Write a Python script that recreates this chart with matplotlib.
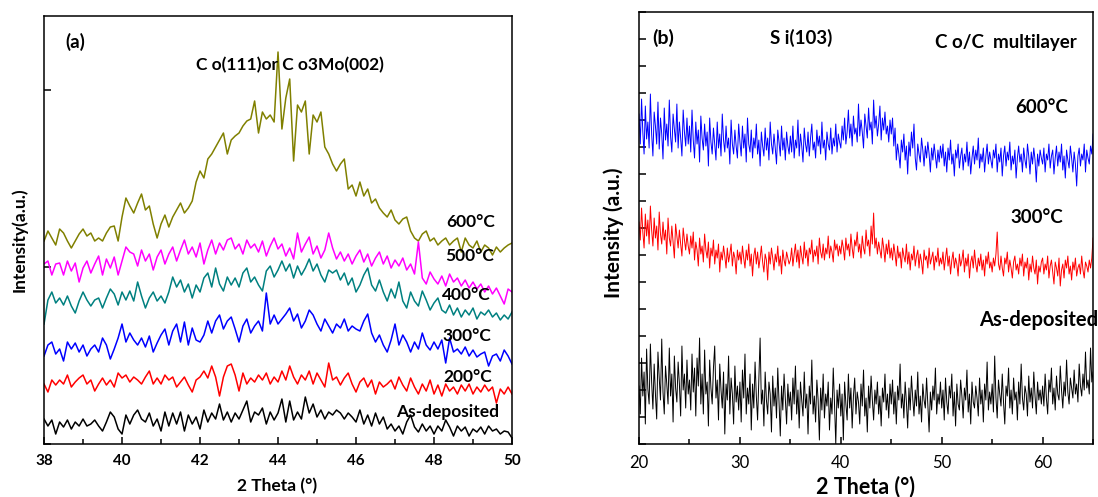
import numpy as np
import matplotlib
matplotlib.use("Agg")
import matplotlib.pyplot as plt
from matplotlib.ticker import MultipleLocator

plt.rcParams['font.family'] = ['Lato', 'DejaVu Sans']

# ---- panel (a): 38-50 deg, step 0.1 ----
x_a = np.linspace(38, 50, 121)
a_600 = [203, 213, 206, 199, 215, 211, 203, 196, 203, 210,
         215, 208, 211, 203, 206, 203, 211, 217, 218, 203,
         227, 246, 238, 231, 241, 250, 234, 238, 220, 206,
         220, 229, 217, 227, 234, 241, 231, 236, 243, 262,
         273, 266, 285, 290, 297, 304, 311, 290, 304, 308,
         311, 318, 323, 325, 343, 311, 332, 325, 329, 322,
         392, 315, 346, 365, 283, 339, 332, 343, 290, 329,
         322, 332, 297, 290, 280, 273, 280, 285, 255, 259,
         248, 262, 248, 255, 241, 245, 236, 231, 227, 234,
         224, 220, 225, 227, 213, 206, 203, 210, 213, 203,
         206, 199, 203, 206, 199, 203, 206, 192, 206, 199,
         196, 203, 192, 199, 196, 189, 197, 192, 196, 199,
         201]
a_500 = [180, 183, 169, 180, 181, 169, 183, 173, 181, 162,
         176, 183, 171, 180, 188, 169, 185, 176, 187, 169,
         183, 197, 192, 190, 178, 194, 183, 190, 174, 187,
         194, 180, 190, 197, 183, 194, 204, 190, 197, 187,
         201, 180, 194, 204, 190, 201, 194, 204, 206, 195,
         200, 190, 204, 196, 200, 192, 203, 188, 198, 206,
         195, 200, 188, 196, 185, 211, 192, 200, 207, 190,
         198, 186, 194, 211, 196, 185, 192, 183, 190, 180,
         188, 194, 182, 190, 178, 186, 192, 180, 188, 176,
         184, 178, 186, 174, 180, 170, 202, 166, 160, 172,
         165, 160, 168, 158, 170, 162, 166, 158, 164, 156,
         162, 155, 160, 152, 158, 150, 156, 148, 140, 155,
         152]
a_400 = [120, 144, 152, 141, 146, 139, 148, 138, 131, 143,
         152, 144, 138, 144, 146, 136, 146, 155, 150, 139,
         152, 144, 153, 143, 162, 148, 136, 146, 152, 143,
         148, 141, 152, 167, 157, 164, 152, 160, 146, 159,
         152, 166, 171, 157, 176, 160, 153, 167, 159, 166,
         157, 171, 176, 162, 167, 159, 153, 173, 178, 167,
         174, 183, 173, 180, 166, 178, 169, 176, 185, 173,
         180, 169, 162, 174, 171, 174, 164, 171, 159, 166,
         152, 159, 169, 176, 159, 153, 164, 152, 143, 155,
         146, 162, 143, 136, 152, 143, 138, 153, 144, 134,
         141, 146, 134, 131, 139, 129, 136, 127, 134, 129,
         136, 125, 132, 129, 134, 127, 131, 124, 129, 125,
         132]
a_300 = [88, 99, 102, 90, 95, 83, 102, 95, 101, 92,
         99, 88, 95, 99, 92, 106, 99, 85, 95, 106,
         120, 102, 111, 104, 99, 106, 97, 108, 92, 101,
         109, 115, 99, 113, 120, 102, 122, 99, 116, 104,
         102, 109, 123, 111, 123, 129, 115, 123, 127, 115,
         102, 118, 125, 111, 118, 123, 113, 151, 120, 129,
         120, 125, 130, 136, 123, 130, 116, 123, 134, 129,
         120, 113, 125, 118, 111, 120, 116, 125, 113, 118,
         115, 113, 123, 130, 111, 102, 109, 99, 92, 104,
         120, 99, 109, 102, 92, 102, 95, 111, 99, 94,
         102, 95, 104, 81, 106, 92, 95, 90, 97, 88,
         94, 87, 90, 92, 78, 88, 90, 83, 94, 88,
         80]
a_200 = [60, 52, 64, 59, 64, 60, 69, 57, 62, 66,
         69, 60, 64, 53, 60, 66, 59, 64, 57, 71,
         66, 69, 62, 67, 64, 60, 67, 73, 60, 66,
         60, 69, 64, 67, 57, 62, 67, 59, 52, 64,
         67, 73, 66, 78, 67, 48, 67, 78, 80, 69,
         53, 71, 60, 66, 62, 69, 64, 71, 60, 67,
         62, 73, 64, 78, 67, 60, 69, 64, 73, 60,
         71, 64, 57, 81, 64, 67, 59, 66, 71, 60,
         52, 62, 66, 57, 64, 50, 62, 57, 60, 64,
         55, 67, 59, 53, 66, 57, 50, 60, 53, 64,
         50, 59, 48, 60, 53, 57, 50, 59, 53, 60,
         50, 57, 52, 59, 53, 57, 41, 55, 50, 57,
         50]
a_asdep = [25, 18, 24, 10, 22, 17, 24, 15, 22, 18,
           25, 18, 20, 24, 18, 13, 22, 32, 27, 15,
           10, 29, 20, 29, 34, 25, 22, 31, 18, 25,
           13, 32, 18, 31, 20, 32, 13, 29, 20, 27,
           15, 34, 22, 31, 25, 40, 24, 32, 22, 31,
           25, 34, 43, 22, 32, 29, 36, 20, 32, 24,
           31, 45, 22, 43, 24, 32, 25, 47, 31, 40,
           27, 34, 25, 32, 29, 34, 31, 25, 31, 27,
           22, 34, 20, 29, 18, 31, 20, 27, 15, 20,
           13, 18, 10, 22, 29, 17, 12, 20, 13, 18,
           10, 18, 13, 24, 17, 8, 18, 13, 17, 8,
           15, 12, 17, 10, 18, 13, 15, 10, 13, 12,
           6]

# ---- panel (b): 20-65 deg, step 0.125 ----
x_b = np.linspace(20, 65, 361)
b_600 = [330, 300, 345, 312, 290, 338, 305, 322, 296, 350, 310, 288, 332, 318, 300, 342, 295, 326, 310, 285,
         336, 304, 320, 298, 344, 308, 292, 330, 315, 302, 340, 296, 322, 306, 288, 334, 312, 298, 326, 300,
         318, 292, 334, 304, 286, 322, 300, 314, 282, 328, 306, 294, 320, 298, 312, 278, 326, 302, 290, 316,
         300, 284, 322, 296, 310, 288, 330, 304, 292, 318, 296, 306, 280, 324, 300, 290, 314, 298, 286, 320,
         302, 288, 318, 296, 310, 282, 326, 300, 292, 314, 286, 306, 296, 320, 290, 304, 278, 312, 298, 288,
         316, 294, 306, 284, 322, 300, 290, 310, 296, 280, 314, 302, 288, 318, 294, 306, 284, 312, 298, 290,
         308, 292, 318, 286, 304, 296, 324, 288, 310, 298, 282, 316, 300, 292, 312, 288, 306, 320, 294, 302,
         286, 314, 298, 308, 290, 322, 296, 304, 284, 312, 300, 294, 316, 290, 306, 298, 320, 292, 310, 302,
         296, 318, 304, 326, 300, 312, 334, 306, 320, 298, 328, 310, 316, 302, 340, 308, 324, 312, 296, 330,
         318, 306, 336, 314, 322, 300, 344, 316, 328, 308, 320, 338, 304, 326, 314, 332, 310, 318, 302, 324,
         310, 326, 298, 316, 284, 300, 290, 276, 304, 292, 310, 284, 298, 270, 302, 288, 312, 296, 320, 286,
         274, 300, 290, 282, 306, 294, 278, 298, 286, 302, 290, 272, 296, 284, 300, 288, 276, 294, 282, 298,
         286, 300, 278, 292, 272, 296, 284, 304, 280, 290, 268, 294, 286, 300, 276, 288, 296, 274, 290, 282,
         302, 278, 292, 270, 286, 298, 280, 294, 284, 306, 276, 290, 282, 296, 272, 288, 300, 280, 292, 284,
         276, 294, 286, 300, 272, 290, 282, 296, 268, 288, 298, 278, 292, 284, 302, 274, 288, 280, 294, 266,
         286, 298, 282, 290, 272, 296, 284, 276, 300, 288, 270, 292, 280, 296, 284, 262, 290, 278, 294, 286,
         280, 296, 272, 290, 284, 300, 276, 288, 294, 270, 286, 298, 278, 292, 282, 300, 274, 288, 266, 294,
         284, 276, 298, 286, 272, 292, 280, 258, 288, 296, 278, 290, 284, 300, 272, 294, 286, 280, 298, 290,
         310]
b_300 = [222, 204, 236, 212, 196, 230, 208, 224, 200, 238, 214, 198, 226, 206, 218, 194, 232, 210, 200, 222,
         204, 214, 190, 226, 206, 198, 218, 202, 186, 220, 208, 196, 214, 200, 188, 216, 204, 194, 210, 198,
         190, 208, 196, 212, 184, 202, 194, 178, 206, 190, 198, 182, 210, 194, 186, 202, 176, 196, 188, 204,
         180, 194, 186, 200, 172, 192, 184, 198, 188, 176, 196, 182, 190, 200, 178, 192, 186, 170, 194, 184,
         192, 180, 198, 186, 176, 194, 184, 200, 178, 190, 168, 188, 196, 180, 192, 176, 186, 198, 182, 172,
         190, 184, 164, 192, 180, 196, 186, 174, 190, 182, 198, 178, 188, 170, 194, 184, 178, 192, 186, 180,
         184, 196, 178, 190, 200, 182, 194, 176, 198, 188, 180, 202, 186, 194, 178, 196, 190, 204, 182, 194,
         188, 198, 180, 206, 192, 186, 200, 184, 196, 190, 208, 186, 198, 192, 182, 204, 194, 200, 188, 198,
         190, 204, 196, 184, 206, 194, 200, 188, 210, 196, 186, 204, 198, 212, 192, 200, 186, 208, 196, 190,
         214, 198, 204, 188, 218, 200, 231, 196, 206, 190, 202, 194, 186, 206, 196, 182, 200, 190, 204, 186,
         196, 184, 200, 190, 178, 198, 186, 192, 176, 196, 188, 182, 200, 180, 192, 174, 190, 184, 198, 178,
         188, 194, 176, 190, 182, 170, 194, 184, 188, 176, 196, 180, 186, 192, 174, 188, 182, 196, 178, 186,
         180, 192, 174, 186, 196, 178, 188, 170, 184, 192, 176, 186, 180, 168, 190, 178, 184, 194, 172, 186,
         178, 190, 166, 182, 188, 176, 194, 180, 172, 186, 178, 190, 174, 184, 168, 188, 180, 192, 176, 182,
         172, 186, 178, 190, 212, 180, 174, 188, 176, 168, 186, 180, 192, 172, 184, 176, 166, 182, 188, 174,
         180, 170, 186, 178, 190, 168, 182, 176, 186, 164, 180, 172, 188, 176, 170, 184, 160, 178, 172, 182,
         186, 170, 180, 174, 188, 166, 178, 184, 172, 160, 182, 176, 168, 186, 158, 174, 180, 166, 184, 176,
         188, 170, 178, 164, 182, 174, 186, 168, 176, 180, 170, 188, 174, 166, 182, 178, 172, 184, 176, 186,
         206]
b_asdep = [58, 30, 86, 48, 72, 20, 95, 55, 40, 100, 62, 35, 80, 50, 25, 92, 66, 44, 105, 52,
           30, 78, 60, 40, 96, 48, 70, 22, 88, 56, 42, 82, 60, 28, 98, 54, 70, 36, 84, 50,
           64, 34, 90, 52, 76, 28, 86, 58, 106, 40, 70, 30, 94, 50, 62, 18, 84, 56, 40, 76,
           98, 46, 64, 24, 80, 54, 36, 72, 10, 60, 44, 88, 30, 66, 50, 20, 78, 42, 58, 34,
           62, 22, 74, 46, 90, 30, 56, 40, 70, 14, 60, 36, 82, 48, 24, 66, 106, 40, 54, 18,
           72, 44, 30, 62, 50, 12, 68, 38, 56, 26, 76, 42, 8, 58, 34, 70, 46, 20, 60, 38,
           52, 24, 66, 40, 78, 30, 54, 16, 62, 44, 28, 72, 36, 50, 10, 58, 40, 84, 30, 48,
           22, 64, 44, 4, 56, 34, 70, 26, 50, 38, 62, 14, 46, 30, 76, 40, 0, 54, 36, 60,
           28, 50, 4, 62, 40, 24, 70, 36, 56, 16, 48, 66, 30, 52, 42, 20, 60, 38, 74, 28,
           46, 12, 58, 36, 68, 44, 24, 54, 40, 62, 30, 48, 18, 56, 42, 70, 34, 50, 26, 60,
           40, 64, 30, 52, 20, 58, 44, 80, 36, 50, 26, 62, 42, 16, 56, 34, 68, 46, 28, 54,
           38, 72, 30, 48, 22, 60, 44, 36, 66, 40, 12, 52, 34, 58, 44, 76, 30, 50, 40, 62,
           36, 54, 24, 66, 42, 30, 58, 46, 70, 28, 52, 18, 60, 40, 34, 64, 48, 26, 56, 44,
           74, 32, 50, 20, 62, 42, 36, 58, 46, 28, 66, 40, 54, 22, 60, 44, 82, 34, 52, 40,
           60, 32, 88, 46, 26, 64, 50, 38, 70, 42, 20, 58, 48, 76, 36, 54, 30, 66, 44, 52,
           24, 62, 40, 80, 46, 34, 58, 50, 28, 68, 42, 56, 36, 72, 48, 30, 62, 44, 54, 40,
           58, 38, 70, 46, 30, 64, 52, 76, 40, 56, 34, 68, 50, 44, 78, 54, 36, 62, 48, 84,
           52, 40, 66, 56, 46, 74, 50, 60, 42, 80, 58, 48, 70, 54, 92, 56, 64, 50, 96, 62,
           72]

fig = plt.figure(figsize=(10.98, 4.97), dpi=100)

# ---------------- (a) ----------------
ax1 = fig.add_axes([0.0401, 0.1066, 0.4262, 0.8612])
for y, c in [(a_600, '#808000'), (a_500, '#ff00ff'), (a_400, '#008080'),
             (a_300, '#0000ff'), (a_200, '#ff0000'), (a_asdep, 'black')]:
    ax1.plot(x_a, y, color=c, lw=1.1)
ax1.set_xlim(38, 50)
ax1.set_ylim(0, 428)
ax1.xaxis.set_major_locator(MultipleLocator(2))
ax1.xaxis.set_minor_locator(MultipleLocator(1))
ax1.set_yticks([0, 177, 354])
ax1.set_yticklabels([])
ax1.tick_params(direction='in', length=5, width=1.1, top=False, right=False,
                labelsize=11, pad=7)
ax1.tick_params(which='minor', direction='in', length=3.5, width=1.1, top=False)
for lab in ax1.get_xticklabels():
    lab.set_fontweight('bold')
for s in ax1.spines.values():
    s.set_linewidth(1.1)

kw = dict(fontsize=12.5, fontweight='bold', va='center')
ax1.text(38.56, 402, '(a)', ha='left', fontsize=13.5, fontweight='bold', va='center')
ax1.text(44.31, 379, 'C o(111)or C o3Mo(002)', ha='center', **kw)
ax1.text(48.95, 222, '600°C', ha='center', **kw)
ax1.text(48.92, 188, '500°C', ha='center', **kw)
ax1.text(48.82, 149, '400°C', ha='center', **kw)
ax1.text(48.85, 108, '300°C', ha='center', **kw)
ax1.text(48.87, 67.5, '200°C', ha='center', **kw)
ax1.text(48.35, 32, 'As-deposited', ha='center', **kw)

fig.text(19 / 1098, 1 - 240 / 497, 'Intensity(a.u.)', rotation=90,
         ha='center', va='center', fontsize=12.5, fontweight='bold')
fig.text(277 / 1098, 1 - 486 / 497, '2 Theta (°)', ha='center', va='center',
         fontsize=12.5, fontweight='bold')

# ---------------- (b) ----------------
ax2 = fig.add_axes([0.5820, 0.1066, 0.4135, 0.8692])
ax2.plot(x_b, b_600, color='#0000ff', lw=0.7)
ax2.plot(x_b, b_300, color='#ff0000', lw=0.7)
ax2.plot(x_b, b_asdep, color='black', lw=0.7)
ax2.set_xlim(20, 65)
ax2.set_ylim(0, 432)
ax2.xaxis.set_major_locator(MultipleLocator(10))
ax2.xaxis.set_minor_locator(MultipleLocator(5))
ax2.yaxis.set_major_locator(MultipleLocator(27))
ax2.set_yticklabels([])
ax2.tick_params(direction='in', length=5, width=1.1, top=False, right=False,
                labelsize=12, pad=8)
ax2.tick_params(which='minor', direction='in', length=3.5, width=1.1, top=False)
for s in ax2.spines.values():
    s.set_linewidth(1.1)

kw2 = dict(fontsize=13.5, fontweight='bold', va='center')
ax2.text(21.3, 406, '(b)', ha='left', fontsize=14, fontweight='bold', va='center')
ax2.text(36.05, 406, 'S i(103)', ha='center', **kw2)
ax2.text(56.4, 402, 'C o/C  multilayer', ha='center', **kw2)
ax2.text(59.9, 337, '600°C', ha='center', **kw2)
ax2.text(59.45, 227, '300°C', ha='center', **kw2)
ax2.text(53.7, 124, 'As-deposited', ha='left', clip_on=False, fontsize=14.5,
         fontweight='bold', va='center')

fig.text(614 / 1098, 1 - 233 / 497, 'Intensity (a.u.)', rotation=90,
         ha='center', va='center', fontsize=15, fontweight='bold')
fig.text(866 / 1098, 1 - 487 / 497, '2 Theta (°)', ha='center', va='center',
         fontsize=15.5, fontweight='bold')

fig.savefig('out.png', dpi=100)
